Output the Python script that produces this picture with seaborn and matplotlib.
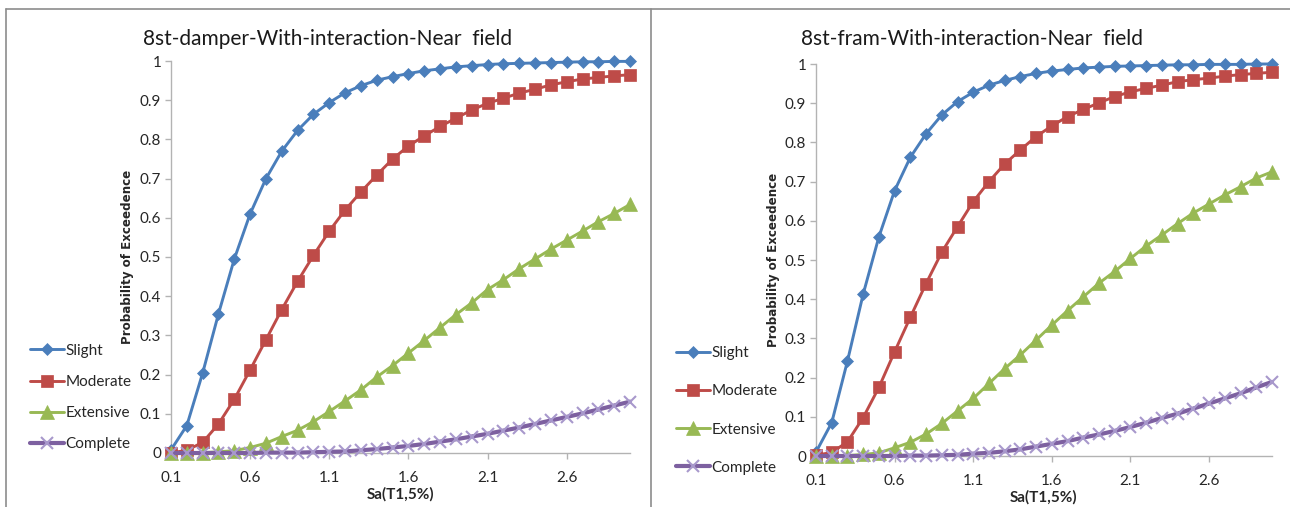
import matplotlib
matplotlib.use("Agg")
import matplotlib.pyplot as plt
import seaborn as sns
import pandas as pd
from matplotlib.lines import Line2D

# ---------------- data ----------------
sa = [0.1, 0.2, 0.3, 0.4, 0.5, 0.6, 0.7, 0.8, 0.9, 1.0,
      1.1, 1.2, 1.3, 1.4, 1.5, 1.6, 1.7, 1.8, 1.9, 2.0,
      2.1, 2.2, 2.3, 2.4, 2.5, 2.6, 2.7, 2.8, 2.9, 3.0]
xtick_vals = [0.1, 0.6, 1.1, 1.6, 2.1, 2.6]
xtick_labels = ["0.1", "0.6", "1.1", "1.6", "2.1", "2.6"]
ytick_vals = [0, 0.1, 0.2, 0.3, 0.4, 0.5, 0.6, 0.7, 0.8, 0.9, 1]
ytick_labels = ["0", "0.1", "0.2", "0.3", "0.4", "0.5", "0.6", "0.7", "0.8", "0.9", "1"]
states = ["Slight", "Moderate", "Extensive", "Complete"]

damper_slight = [0.008, 0.070, 0.204, 0.355, 0.495, 0.610, 0.700, 0.770, 0.823, 0.864,
                 0.894, 0.919, 0.937, 0.951, 0.960, 0.968, 0.975, 0.980, 0.985, 0.988,
                 0.991, 0.993, 0.994, 0.995, 0.996, 0.997, 0.998, 0.998, 0.999, 0.999]
damper_moderate = [0.000, 0.007, 0.027, 0.074, 0.137, 0.212, 0.289, 0.366, 0.438, 0.504,
                   0.566, 0.620, 0.666, 0.709, 0.750, 0.783, 0.809, 0.833, 0.854, 0.875,
                   0.892, 0.905, 0.918, 0.928, 0.939, 0.947, 0.954, 0.958, 0.962, 0.965]
damper_extensive = [0.000, 0.000, 0.001, 0.003, 0.006, 0.014, 0.025, 0.042, 0.058, 0.080,
                    0.106, 0.133, 0.161, 0.194, 0.223, 0.255, 0.287, 0.320, 0.353, 0.383,
                    0.417, 0.442, 0.470, 0.495, 0.520, 0.543, 0.566, 0.590, 0.611, 0.634]
damper_complete = [0.000, 0.000, 0.000, 0.000, 0.000, 0.000, 0.001, 0.001, 0.001, 0.002,
                   0.003, 0.004, 0.007, 0.010, 0.014, 0.018, 0.023, 0.029, 0.035, 0.042,
                   0.049, 0.057, 0.065, 0.074, 0.083, 0.092, 0.101, 0.111, 0.121, 0.131]

fram_slight = [0.010, 0.085, 0.242, 0.413, 0.559, 0.677, 0.762, 0.822, 0.870, 0.904,
               0.928, 0.946, 0.958, 0.968, 0.976, 0.982, 0.986, 0.990, 0.992, 0.994,
               0.995, 0.996, 0.997, 0.998, 0.998, 0.999, 0.999, 0.999, 1.000, 1.000]
fram_moderate = [0.002, 0.009, 0.036, 0.098, 0.175, 0.266, 0.354, 0.440, 0.520, 0.585,
                 0.649, 0.700, 0.745, 0.781, 0.815, 0.842, 0.866, 0.884, 0.901, 0.917,
                 0.929, 0.938, 0.946, 0.955, 0.960, 0.964, 0.969, 0.973, 0.976, 0.979]
fram_extensive = [0.000, 0.000, 0.001, 0.004, 0.008, 0.021, 0.035, 0.056, 0.083, 0.115,
                  0.147, 0.185, 0.223, 0.258, 0.296, 0.334, 0.371, 0.406, 0.441, 0.471,
                  0.504, 0.536, 0.564, 0.593, 0.620, 0.643, 0.666, 0.687, 0.709, 0.725]
fram_complete = [0.000, 0.000, 0.000, 0.000, 0.000, 0.000, 0.001, 0.001, 0.002, 0.003,
                 0.006, 0.008, 0.012, 0.017, 0.024, 0.031, 0.038, 0.047, 0.055, 0.064,
                 0.074, 0.085, 0.097, 0.108, 0.121, 0.134, 0.147, 0.160, 0.175, 0.189]

titles = ["8st-damper-With-interaction-Near  field", "8st-fram-With-interaction-Near  field"]

# ---------------- style ----------------
sns.set_theme(style="white")
FONT = ["Lato", "Liberation Sans", "DejaVu Sans"]
plt.rcParams["font.family"] = FONT

colors = {"Slight": "#4A7EBB", "Moderate": "#BE4B48", "Extensive": "#98B954", "Complete": "#7D60A0"}
markers = {"Slight": "D", "Moderate": "s", "Extensive": "^", "Complete": "x"}
msizes = {"Slight": 6.4, "Moderate": 9.0, "Extensive": 9.6, "Complete": 8.0}
lwidths = {"Slight": 2.1, "Moderate": 2.1, "Extensive": 2.1, "Complete": 3.0}
mecs = {"Slight": "#4A7EBB", "Moderate": "#BE4B48", "Extensive": "#98B954", "Complete": "#A898CC"}

W, H = 1290, 507
fig = plt.figure(figsize=(W / 100, H / 100), dpi=100)

panels = [
    dict(data=[damper_slight, damper_moderate, damper_extensive, damper_complete],
         box=(171, 61, 630, 453), tx=328, ty=39, leg_x=30, leg_y=397.5, leg_sp=1.12,
         xly=494, ylx=128),
    dict(data=[fram_slight, fram_moderate, fram_extensive, fram_complete],
         box=(816, 64, 1272, 456), tx=972, ty=39, leg_x=676, leg_y=410.5, leg_sp=1.58,
         xly=497, ylx=773),
]

text_col = "#262626"
axis_col = "#B3B3B3"

for i, p in enumerate(panels):
    l, t, r, b = p["box"]
    ax = fig.add_axes([l / W, (H - b) / H, (r - l) / W, (b - t) / H])
    rows = []
    for s, vals in zip(states, p["data"]):
        for x, v in zip(sa, vals):
            rows.append({"Sa": x, "P": v, "State": s})
    df = pd.DataFrame(rows)
    for s in states:
        sub = df[df["State"] == s]
        sns.lineplot(data=sub, x="Sa", y="P", ax=ax, color=colors[s], marker=markers[s],
                     markersize=msizes[s], linewidth=lwidths[s], markeredgecolor=mecs[s],
                     markeredgewidth=1.5 if s == "Complete" else 0.5,
                     label=s, clip_on=False, zorder=3)
    ax.set_xlim(0.1, 3.0)
    ax.set_ylim(0, 1)
    ax.set_xticks(xtick_vals)
    ax.set_xticklabels(xtick_labels)
    ax.set_yticks(ytick_vals)
    ax.set_yticklabels(ytick_labels)
    for sp in ["top", "right"]:
        ax.spines[sp].set_visible(False)
    for sp in ["left", "bottom"]:
        ax.spines[sp].set_color(axis_col)
        ax.spines[sp].set_linewidth(1.0)
    ax.tick_params(axis="y", direction="out", length=4, width=1, color=axis_col,
                   labelsize=11, labelcolor=text_col, pad=3, left=True)
    ax.tick_params(axis="x", direction="out", length=4, width=1, color=axis_col,
                   labelsize=11, labelcolor=text_col, pad=9, bottom=True)
    ax.set_xlabel("Sa(T1,5%)", fontsize=11, fontweight="bold", color=text_col)
    ax.xaxis.label.set_va("center")
    ax.xaxis.set_label_coords(0.5, (b - p["xly"]) / (b - t))
    ax.set_ylabel("Probability of Exceedence", fontsize=8.6, fontweight="bold",
                  color=text_col, family=["DejaVu Sans"])
    ax.yaxis.label.set_va("center")
    ax.yaxis.set_label_coords((p["ylx"] - l) / (r - l), 0.5)
    ax.set_facecolor("white")
    ax.grid(False)
    leg = ax.legend(loc="center left", bbox_to_anchor=(p["leg_x"] / W, (H - p["leg_y"]) / H),
                    bbox_transform=fig.transFigure, frameon=False, fontsize=11,
                    handlelength=2.2, handletextpad=0.1, labelspacing=p["leg_sp"],
                    borderpad=0, borderaxespad=0, numpoints=1)
    for txt in leg.get_texts():
        txt.set_color(text_col)
    fig.text(p["tx"] / W, (H - p["ty"]) / H, titles[i], ha="center", va="center",
             fontsize=15, color="#1a1a1a")

# outer frame lines
fc = "#8C8C8C"
fig.add_artist(Line2D([6 / W, 1.0], [(H - 9) / H, (H - 9) / H], transform=fig.transFigure, color=fc, lw=1.2))
fig.add_artist(Line2D([6 / W, 6 / W], [0, (H - 9) / H], transform=fig.transFigure, color=fc, lw=1.2))
fig.add_artist(Line2D([651 / W, 651 / W], [0, (H - 9) / H], transform=fig.transFigure, color=fc, lw=1.2))

fig.savefig("out.png", dpi=100, facecolor="white")
